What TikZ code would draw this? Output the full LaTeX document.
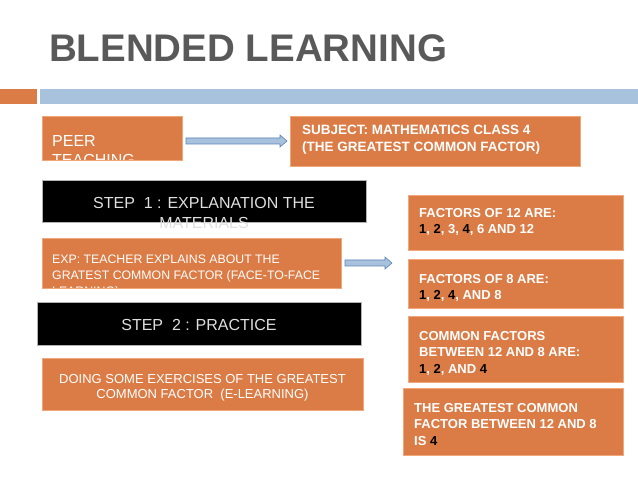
\documentclass[tikz,border=0pt]{standalone}
\usepackage{fontspec}
\setmainfont{Liberation Sans}
\definecolor{org}{HTML}{DB7B45}
\definecolor{orgl}{HTML}{F2A77A}
\definecolor{blu}{HTML}{A8C1DD}
\definecolor{blud}{HTML}{5B84B5}
\definecolor{ttl}{HTML}{595959}
\tikzset{
 obox/.style={fill=org,draw=orgl,line width=1.2pt,anchor=north west,inner sep=0pt,text=white},
 bbox/.style={fill=black,draw=gray!60,line width=0.6pt,anchor=north west,inner sep=0pt},
 barrow/.style={fill=blu,draw=blud,line width=0.6pt},
 mask/.style={fill=white},
}
\newcommand{\bk}[1]{\textcolor{black}{#1}}
\newcommand{\blockarrow}[3]{% x1, x2, y
 \draw[barrow] (#1,#3-3) -- (#2-7,#3-3) -- (#2-7,#3-6) -- (#2,#3) -- (#2-7,#3+6) -- (#2-7,#3+3) -- (#1,#3+3) -- cycle;}
\begin{document}
\begin{tikzpicture}[x=1pt,y=-1pt]
\useasboundingbox (0,0) rectangle (638,478);
\node[anchor=west,text=ttl,font=\bfseries\fontsize{38.5}{40}\selectfont,inner sep=0pt] (title) at (49,48) {BLENDED LEARNING};
\fill[org] (0,89) rectangle (37,104);
\fill[blu] (40,89) rectangle (638,104);
% left column
\fill[org] (42,116) rectangle (182,160);
\node[anchor=north west,text=white,font=\fontsize{16}{19}\selectfont,align=left,inner sep=0pt] (peert) at (52,135) {PEER\\TEACHING};
\fill[mask] (38,161) rectangle (190,176);
\node[obox,fill=none,minimum width=140pt,minimum height=44pt] (peer) at (42,116) {};
\node[obox,minimum width=290pt,minimum height=50pt] (subj) at (290,116) {};
\node[anchor=north west,text=white,font=\bfseries\fontsize{13.5}{17}\selectfont,align=left,inner sep=0pt] (subjt) at (302,125) {SUBJECT: MATHEMATICS CLASS 4\\(THE GREATEST COMMON FACTOR)};
\blockarrow{186}{287}{141}
\node[bbox,minimum width=324pt,minimum height=42pt] (s1) at (42,180) {};
\node[anchor=north,text=gray!25,font=\fontsize{16}{20}\selectfont,align=center,inner sep=0pt] (s1t) at (204,197) {STEP\ \ 1 : EXPLANATION THE\\MATERIALS};
\fill[org] (42,238) rectangle (341,288);
\node[anchor=north west,text=white,font=\fontsize{12.3}{16}\selectfont,align=left,inner sep=0pt] (expt) at (52,255) {EXP: TEACHER EXPLAINS ABOUT THE\\GRATEST COMMON FACTOR (FACE-TO-FACE\\LEARNING)};
\fill[mask] (38,289) rectangle (345,300);
\node[obox,fill=none,minimum width=299pt,minimum height=50pt] (exp) at (42,238) {};
\blockarrow{345}{392}{263}
\node[bbox,minimum width=324pt,minimum height=43pt] (s2) at (37,302) {};
\node[text=gray!25,font=\fontsize{16}{19}\selectfont,inner sep=0pt] (s2t) at (199,325) {STEP\ \ 2 : PRACTICE};
\node[obox,minimum width=321pt,minimum height=52pt] (doing) at (42,358) {};
\node[text=white,font=\fontsize{13}{15}\selectfont,align=center,inner sep=0pt] (doingt) at (202.5,388) {DOING SOME EXERCISES OF THE GREATEST\\COMMON FACTOR\ \ (E-LEARNING)};
% right column
\tikzset{rt/.style={anchor=north west,text=white,font=\bfseries\fontsize{13}{16.5}\selectfont,align=left,inner sep=0pt}}
\node[obox,minimum width=215pt,minimum height=55pt] (f12) at (408,195) {};
\node[rt] (f12t) at (419,208) {FACTORS OF 12 ARE:\\\bk{1}, \bk{2}, 3, \bk{4}, 6 AND 12};
\node[obox,minimum width=215pt,minimum height=49pt] (f8) at (408,259) {};
\node[rt] (f8t) at (419,274) {FACTORS OF 8 ARE:\\\bk{1}, \bk{2}, \bk{4}, AND 8};
\node[obox,minimum width=215pt,minimum height=66pt] (cf) at (408,316) {};
\node[rt] (cft) at (419,331) {COMMON FACTORS\\BETWEEN 12 AND 8 ARE:\\\bk{1}, \bk{2}, AND \bk{4}};
\node[obox,minimum width=220pt,minimum height=67pt] (gcf) at (403,388) {};
\node[rt] (gcft) at (414,403) {THE GREATEST COMMON\\FACTOR BETWEEN 12 AND 8\\IS \bk{4}};
\end{tikzpicture}
\end{document}
